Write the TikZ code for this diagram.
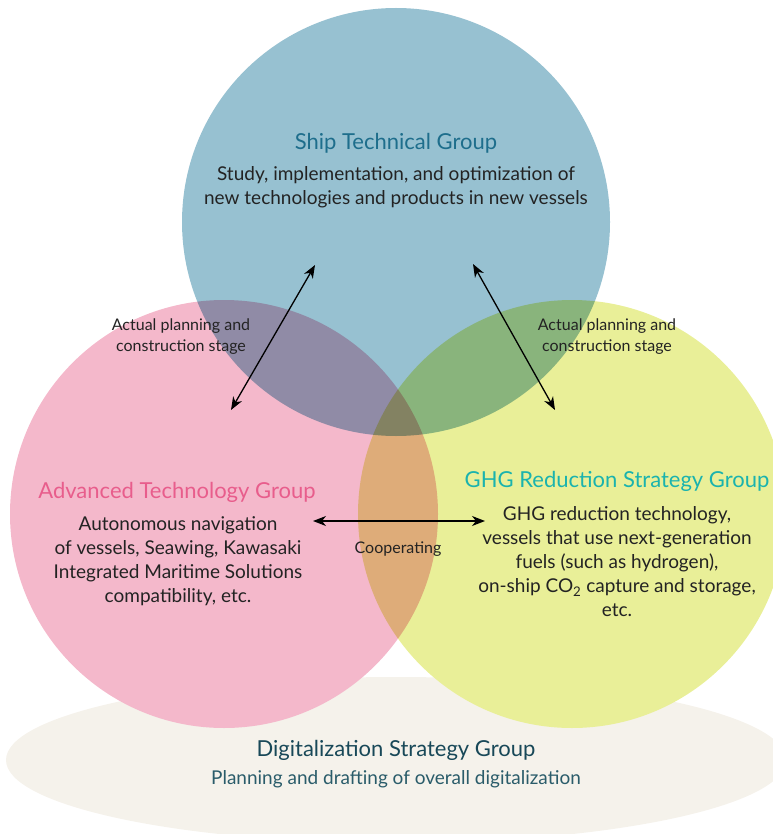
\documentclass[tikz,border=0pt]{standalone}
\usepackage{fontspec}
\setmainfont{Lato}
\usetikzlibrary{arrows.meta, positioning}

\definecolor{shipblue}{RGB}{151,193,209}
\definecolor{advpink}{RGB}{244,184,203}
\definecolor{ghgyellow}{RGB}{233,239,152}
\definecolor{digibeige}{RGB}{245,242,235}
\definecolor{shiptitle}{RGB}{30,110,140}
\definecolor{advtitle}{RGB}{232,93,140}
\definecolor{ghgtitle}{RGB}{26,179,174}
\definecolor{digititle}{RGB}{24,72,88}
\definecolor{digibody}{RGB}{42,92,106}
\definecolor{bodytext}{RGB}{35,35,35}

\tikzset{
  grouptitle/.style={font=\fontsize{22}{26}\selectfont},
  groupbody/.style={align=center, text=bodytext, font=\fontsize{19}{24}\selectfont},
  linklabel/.style={align=center, text=bodytext, font=\fontsize{16}{21}\selectfont},
  link/.style={{Stealth[length=13pt,width=10pt,inset=4pt]}-{Stealth[length=13pt,width=10pt,inset=4pt]}, line width=1.3pt, black}
}

\begin{document}
\begin{tikzpicture}[x=1pt, y=-1pt]
			\useasboundingbox (0,0) rectangle (772,834);
			% Digitalization base
			\fill[digibeige] (396,760) ellipse [x radius=390, y radius=83];
			
			% Group circles
			\begin{scope}[blend group=multiply]
				\fill[shipblue] (396,222) circle [radius=214];
				\fill[advpink] (224,514) circle [radius=214];
				\fill[ghgyellow] (572,514) circle [radius=214];
			\end{scope}
			
			% Group texts
			\node[grouptitle, text=shiptitle] (ship) at (396,143) {Ship Technical Group};
			\node[groupbody] (shipbody) at (396,187) {Study, implementation, and optimization of\\new technologies and products in new vessels};
			
			\node[grouptitle, text=advtitle] (adv) at (177,492) {Advanced Technology Group};
			\node[groupbody] (advbody) at (178,561) {Autonomous navigation\\of vessels, Seawing, Kawasaki\\Integrated Maritime Solutions\\compatibility, etc.};
			
			\node[grouptitle, text=ghgtitle] (ghg) at (617,481) {GHG Reduction Strategy Group};
			\node[groupbody] (ghgbody) at (617,562) {GHG reduction technology,\\vessels that use next-generation\\fuels (such as hydrogen),\\on-ship CO\textsubscript{2} capture and storage,\\etc.};
			
			\node[grouptitle, text=digititle] (digi) at (396,750) {Digitalization Strategy Group};
			\node[groupbody, text=digibody] (digibody) at (396,779) {Planning and drafting of overall digitalization};
			
			% Connections
			\coordinate (shipL) at (315,265);
			\coordinate (advU) at (231,410);
			\coordinate (shipR) at (473,264);
			\coordinate (ghgU) at (555,410);
			\coordinate (advR) at (313,521);
			\coordinate (ghgL) at (485,521);
			\draw[link] (shipL) -- (advU);
			\draw[link] (shipR) -- (ghgU);
			\draw[link] (advR) -- (ghgL);
			
			\node[linklabel] (lstage) at (181,337) {Actual planning and\\construction stage};
			\node[linklabel] (rstage) at (607,337) {Actual planning and\\construction stage};
			\node[linklabel] (coop) at (398,549) {Cooperating};
		\end{tikzpicture}
\end{document}
